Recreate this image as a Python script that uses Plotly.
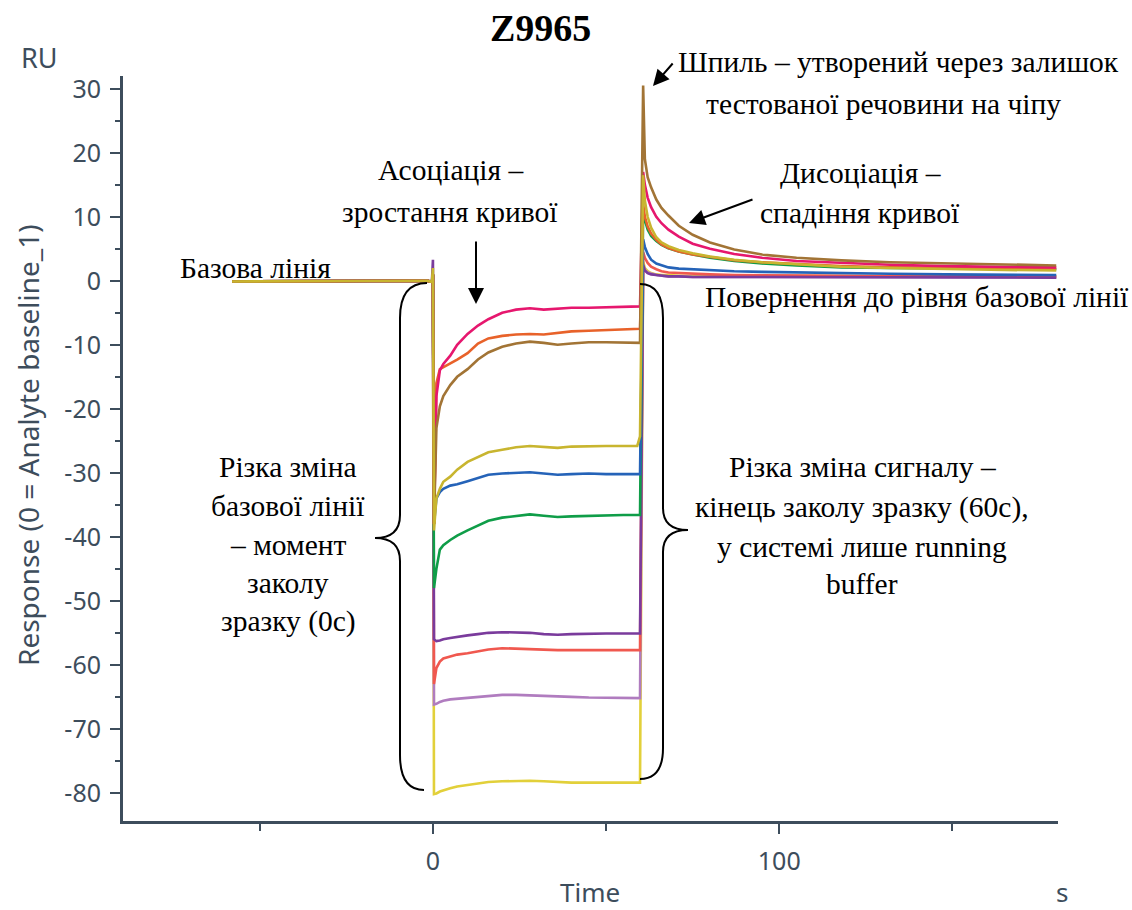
import plotly.graph_objects as go

# ---- sensorgram data (time in s, response in RU) ----
T_BASE = [-58, -45, -30, -15, -5, -1.5, -0.3]
BASELINE = [-0.1, -0.1, 0.0, 0.0, 0.0, 0.0, -0.2]

T_INJECT = 0.0
T_ASSOC = [0.3, 1, 2, 3, 5, 7, 10, 13, 16, 20, 24, 28, 32, 36, 40, 45, 50, 55, 59, 59.8]
T_DISS = [60.7, 61.2, 62, 63, 64.5, 66, 68, 71, 75, 80, 87, 95, 105, 118, 132, 148, 165, 180]

YELLOW_SPIKE = 1.0
YELLOW_ASSOC = [-80.2, -80.1, -79.8, -79.6, -79.3, -79.0, -78.8, -78.5, -78.3, -78.2,
                -78.1, -78.1, -78.2, -78.3, -78.4, -78.4, -78.4, -78.4, -78.4, -78.4]
YELLOW_DISS = [3.0, 2.0, 1.5, 1.2, 1.0, 0.9, 0.9, 0.8, 0.8, 0.8, 0.8, 0.8, 0.7, 0.7, 0.7, 0.7, 0.7, 0.7]

LILAC_SPIKE = 1.0
LILAC_ASSOC = [-66.2, -66.1, -65.8, -65.6, -65.4, -65.3, -65.2, -65.0, -64.8, -64.7,
               -64.7, -64.8, -64.9, -65.0, -65.0, -65.1, -65.1, -65.2, -65.2, -65.2]
LILAC_DISS = [2.5, 1.7, 1.3, 1.1, 0.9, 0.8, 0.7, 0.7, 0.6, 0.6, 0.6, 0.5, 0.5, 0.5, 0.5, 0.5, 0.5, 0.5]

RED_SPIKE = 1.0
RED_ASSOC = [-63, -60.5, -59.5, -59, -58.7, -58.4, -58.2, -57.9, -57.6, -57.4,
             -57.5, -57.5, -57.6, -57.7, -57.7, -57.7, -57.7, -57.7, -57.7, -57.7]
RED_DISS = [4.5, 3.6, 2.8, 2.2, 1.8, 1.5, 1.3, 1.2, 1.1, 1.0, 0.9, 0.9, 0.8, 0.8, 0.7, 0.7, 0.7, 0.7]

PURPLE_SPIKE = 3.3
PURPLE_ASSOC = [-56, -56.3, -56.2, -56.0, -55.8, -55.6, -55.4, -55.2, -55.0, -54.9,
                -54.9, -55.0, -55.2, -55.3, -55.2, -55.1, -55.1, -55.1, -55.1, -55.1]
PURPLE_DISS = [2.5, 1.6, 1.2, 1.0, 0.9, 0.8, 0.7, 0.7, 0.6, 0.6, 0.6, 0.5, 0.5, 0.5, 0.5, 0.5, 0.5, 0.5]

GREEN_SPIKE = 1.0
GREEN_ASSOC = [-48, -45, -42, -41.3, -40.5, -39.8, -39, -38.2, -37.5, -37.0,
               -36.7, -36.5, -36.7, -36.9, -36.8, -36.7, -36.7, -36.6, -36.6, -36.6]
GREEN_DISS = [11, 9.5, 8, 7.0, 6.2, 5.6, 5.1, 4.6, 4.1, 3.6, 3.1, 2.7, 2.4, 2.1, 2.0, 1.9, 1.8, 1.8]

BLUE_SPIKE = 1.0
BLUE_ASSOC = [-38, -34, -33, -32.5, -32, -31.8, -31.3, -30.8, -30.3, -30.1,
              -30.0, -29.9, -30.1, -30.3, -30.2, -30.1, -30.2, -30.2, -30.2, -30.2]
BLUE_DISS = [6.5, 5.3, 4.2, 3.3, 2.7, 2.4, 2.1, 1.9, 1.8, 1.6, 1.5, 1.4, 1.3, 1.2, 1.1, 1.0, 1.0, 0.9]

ORANGE_SPIKE = 1.0
ORANGE_ASSOC = [-38, -16, -13.8, -13.5, -13, -12.3, -11.3, -9.8, -9.0, -8.6,
                -8.4, -8.3, -8.4, -8.2, -7.9, -7.8, -7.7, -7.6, -7.5, -7.5]
ORANGE_DISS = [12, 10, 8.5, 7.4, 6.4, 5.7, 5.1, 4.6, 4.1, 3.7, 3.2, 2.9, 2.6, 2.3, 2.1, 2.0, 1.9, 1.9]

PINK_SPIKE = 1.0
PINK_ASSOC = [-38, -18, -14, -13, -11.7, -10, -8.3, -7, -6, -5,
              -4.5, -4.3, -4.5, -4.4, -4.2, -4.2, -4.1, -4.0, -4.0, -4.0]
PINK_DISS = [17, 15, 13, 11.5, 10, 9, 8, 6.9, 5.8, 5.0, 4.2, 3.6, 3.1, 2.8, 2.5, 2.3, 2.2, 2.1]

BROWN_SPIKE = 1.0
BROWN_ASSOC = [-38, -23, -19.6, -18, -16.3, -15, -13.8, -12.3, -11.2, -10.3,
               -9.8, -9.5, -9.7, -10, -9.8, -9.6, -9.6, -9.6, -9.7, -9.7]
BROWN_DISS = [30.5, 19, 16.2, 14.6, 12.7, 11.4, 10.2, 8.6, 7.2, 6.0, 4.9, 4.1, 3.6, 3.2, 2.9, 2.7, 2.5, 2.4]

OLIVE_SPIKE = 2.0
OLIVE_ASSOC = [-39, -34, -32.5, -31.4, -30.6, -29.5, -28.3, -27.5, -26.8, -26.4,
               -26.0, -25.8, -25.9, -26.1, -25.9, -25.8, -25.8, -25.8, -25.8, -24.3]
OLIVE_DISS = [16.5, 12.5, 10, 8.3, 6.8, 6.0, 5.4, 4.8, 4.3, 3.8, 3.3, 2.9, 2.6, 2.2, 2.0, 1.8, 1.7, 1.6]

CURVES = [
    ("#e2d03a", YELLOW_SPIKE, YELLOW_ASSOC, YELLOW_DISS),
    ("#b07cbf", LILAC_SPIKE, LILAC_ASSOC, LILAC_DISS),
    ("#f0584f", RED_SPIKE, RED_ASSOC, RED_DISS),
    ("#7a3b9c", PURPLE_SPIKE, PURPLE_ASSOC, PURPLE_DISS),
    ("#0f9d48", GREEN_SPIKE, GREEN_ASSOC, GREEN_DISS),
    ("#2563b8", BLUE_SPIKE, BLUE_ASSOC, BLUE_DISS),
    ("#e8622a", ORANGE_SPIKE, ORANGE_ASSOC, ORANGE_DISS),
    ("#e6176e", PINK_SPIKE, PINK_ASSOC, PINK_DISS),
    ("#a27435", BROWN_SPIKE, BROWN_ASSOC, BROWN_DISS),
    ("#c8b52f", OLIVE_SPIKE, OLIVE_ASSOC, OLIVE_DISS),
]

Y_TICKS = [30, 20, 10, 0, -10, -20, -30, -40, -50, -60, -70, -80]
Y_TICK_TEXT = ["30", "20", "10", "0", "-10", "-20", "-30", "-40", "-50", "-60", "-70", "-80"]
X_TICKS = [0, 100]
X_TICK_TEXT = ["0", "100"]

AXIS_COLOR = "#3d4d5c"
SANS = "Noto Sans, Open Sans, sans-serif"
SERIF = "Liberation Serif, Times New Roman, serif"
NOTE_SIZE = 29.5

fig = go.Figure()
for color, spike, assoc, diss in CURVES:
    t = T_BASE + [T_INJECT] + T_ASSOC + T_DISS
    v = BASELINE + [spike] + assoc + diss
    fig.add_trace(go.Scatter(x=t, y=v, mode="lines",
                             line=dict(color=color, width=2.6),
                             showlegend=False, hoverinfo="skip"))

# ---- layout geometry (pixels of the plotting frame) ----
W, H = 1132, 910
L, R, T, B = 123, 1058, 76, 821


def px(x, y):
    """Pixel position on the page -> paper coordinates."""
    return (x - L) / (R - L), (B - y) / (B - T)


def brace(cmds):
    parts = []
    for cmd, pts in cmds:
        coords = " ".join("%.5f,%.5f" % px(x, y) for x, y in pts)
        parts.append(cmd + " " + coords)
    return " ".join(parts)


left_brace = brace([
    ("M", [(427, 283)]), ("Q", [(400, 283), (400, 318)]), ("L", [(400, 515)]),
    ("Q", [(400, 538), (375, 538)]), ("Q", [(400, 538), (400, 561)]),
    ("L", [(400, 755)]), ("Q", [(400, 790), (424, 790)]),
])
right_brace = brace([
    ("M", [(640, 284)]), ("Q", [(663, 284), (663, 318)]), ("L", [(663, 508)]),
    ("Q", [(663, 530), (688, 530)]), ("Q", [(663, 530), (663, 552)]),
    ("L", [(663, 748)]), ("Q", [(663, 779), (640, 779)]),
])
for p in (left_brace, right_brace):
    fig.add_shape(type="path", path=p, xref="paper", yref="paper",
                  line=dict(color="black", width=2))

annotations = []


def text(s, x, y, size=NOTE_SIZE, anchor="center", font=SERIF, color="black",
         angle=0, bold=False):
    ax, ay = px(x, y)
    annotations.append(dict(text=("<b>%s</b>" % s) if bold else s, x=ax, y=ay,
                            xref="paper", yref="paper", showarrow=False,
                            xanchor=anchor, yanchor="middle", textangle=angle,
                            font=dict(family=font, size=size, color=color)))


def arrow(tip_x, tip_y, tail_x, tail_y):
    ax, ay = px(tip_x, tip_y)
    annotations.append(dict(text="", x=ax, y=ay, xref="paper", yref="paper",
                            showarrow=True, ax=tail_x - tip_x, ay=tail_y - tip_y,
                            arrowhead=2, arrowsize=1.6, arrowwidth=2,
                            arrowcolor="black", standoff=0))


text("Z9965", 540, 28, size=38, bold=True)
text("RU", 39, 57, size=27, font=SANS, color=AXIS_COLOR)
text("Time", 590, 892, size=26, font=SANS, color=AXIS_COLOR)
text("s", 1062, 892, size=26, font=SANS, color=AXIS_COLOR)
text("Response (0 = Analyte baseline_1)", 28, 445, size=28, font=SANS,
     color=AXIS_COLOR, angle=-90)

text("Базова лінія", 178, 268, anchor="left")
text("Асоціація –", 450, 170)
text("зростання кривої", 450, 212)
text("Шпиль – утворений через залишок", 898, 62)
text("тестованої речовини на чіпу", 883, 104)
text("Дисоціація –", 860, 173)
text("спадіння кривої", 860, 213)
text("Повернення до рівня базової лінії", 917, 297)

for s, y in [("Різка зміна", 467), ("базової лінії", 506), ("– момент", 545),
             ("заколу", 583), ("зразку (0с)", 621)]:
    text(s, 288, y)
for s, y in [("Різка зміна сигналу –", 467), ("кінець заколу зразку (60с),", 507),
             ("у системі лише running", 547), ("buffer", 584)]:
    text(s, 862, y)

arrow(476, 304, 476, 240)
arrow(653, 86, 674, 62)
arrow(689, 223, 754, 199)

fig.update_layout(
    width=W, height=H,
    margin=dict(l=L, r=W - R, t=T, b=H - B, pad=0),
    paper_bgcolor="white", plot_bgcolor="white",
    annotations=annotations,
    xaxis=dict(range=[-89.5, 180.5], showgrid=False, zeroline=False,
               showline=True, linecolor=AXIS_COLOR, linewidth=3,
               tickmode="array", tickvals=X_TICKS, ticktext=X_TICK_TEXT,
               ticks="outside", ticklen=10, tickwidth=2, tickcolor=AXIS_COLOR,
               ticklabelstandoff=6,
               tickfont=dict(family=SANS, size=25, color=AXIS_COLOR),
               minor=dict(tickmode="linear", tick0=0, dtick=50, ticks="outside",
                          ticklen=7, tickwidth=2, tickcolor=AXIS_COLOR)),
    yaxis=dict(range=[-84.4, 32], showgrid=False, zeroline=False,
               showline=True, linecolor=AXIS_COLOR, linewidth=3,
               tickmode="array", tickvals=Y_TICKS, ticktext=Y_TICK_TEXT,
               ticks="outside", ticklen=10, tickwidth=2, tickcolor=AXIS_COLOR,
               ticklabelstandoff=4,
               tickfont=dict(family=SANS, size=25, color=AXIS_COLOR),
               minor=dict(tickmode="linear", tick0=0, dtick=5, ticks="outside",
                          ticklen=5, tickwidth=2, tickcolor=AXIS_COLOR)),
)

fig.write_html("out.html")
